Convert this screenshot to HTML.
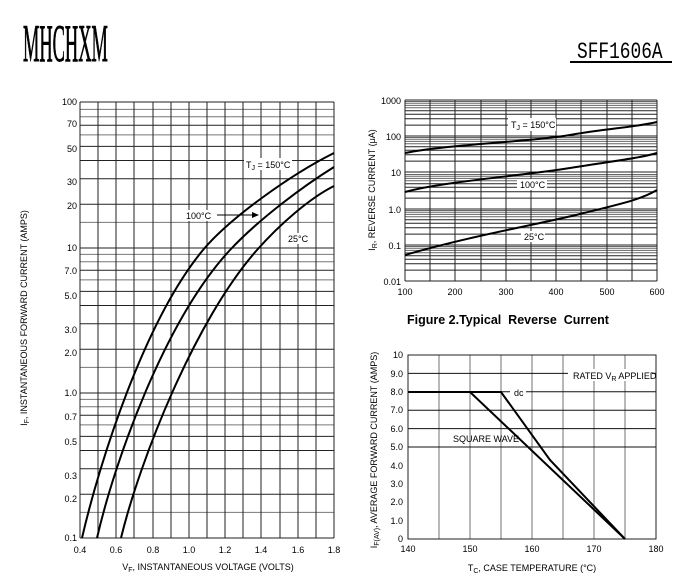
<!DOCTYPE html>
<html><head><meta charset="utf-8"><style>
html,body{margin:0;padding:0;background:#fff;}
svg{display:block;font-family:"Liberation Sans",sans-serif;}
</style></head><body>
<svg width="700" height="577" viewBox="0 0 700 577" xmlns="http://www.w3.org/2000/svg">
<defs>
<g id="d1" stroke="#222" stroke-width="1">
<line x1="80" x2="334" y1="0" y2="0"/><line x1="80" x2="334" y1="-25.6" y2="-25.6" stroke="#777"/><line x1="80" x2="334" y1="-43.7" y2="-43.7"/><line x1="80" x2="334" y1="-69.3" y2="-69.3"/><line x1="80" x2="334" y1="-87.5" y2="-87.5"/><line x1="80" x2="334" y1="-101.6" y2="-101.6"/><line x1="80" x2="334" y1="-113.1" y2="-113.1" stroke="#777"/><line x1="80" x2="334" y1="-122.8" y2="-122.8"/><line x1="80" x2="334" y1="-131.2" y2="-131.2" stroke="#777"/><line x1="80" x2="334" y1="-138.6" y2="-138.6" stroke="#777"/>
</g>
<g id="d2" stroke="#222" stroke-width="1">
<line x1="405" x2="657" y1="0" y2="0"/><line x1="405" x2="657" y1="-10.9" y2="-10.9"/><line x1="405" x2="657" y1="-17.3" y2="-17.3"/><line x1="405" x2="657" y1="-21.8" y2="-21.8"/><line x1="405" x2="657" y1="-25.3" y2="-25.3"/><line x1="405" x2="657" y1="-28.2" y2="-28.2" stroke="#666"/><line x1="405" x2="657" y1="-30.6" y2="-30.6" stroke="#666"/><line x1="405" x2="657" y1="-32.7" y2="-32.7" stroke="#666"/><line x1="405" x2="657" y1="-34.5" y2="-34.5" stroke="#666"/>
</g>
</defs>

<!-- header -->
<text x="0" y="0" font-family="Liberation Serif,serif" font-size="46" stroke="#000" stroke-width="0.8" transform="translate(23,61) scale(0.40,1.15)">MHCHXM</text>
<text x="0" y="0" font-family="Liberation Mono,monospace" font-size="21" transform="translate(577,58) scale(0.85,1.1)">SFF1606A</text>
<line x1="570" x2="672" y1="62" y2="62" stroke="#000" stroke-width="2"/>

<!-- chart 1 -->
<use href="#d1" y="538"/><use href="#d1" y="393"/><use href="#d1" y="248"/>
<line x1="80" x2="334" y1="102" y2="102" stroke="#222"/>
<g stroke="#222" stroke-width="1">
<line x1="80" x2="80" y1="102" y2="538"/><line x1="98" x2="98" y1="102" y2="538"/><line x1="116" x2="116" y1="102" y2="538"/><line x1="134" x2="134" y1="102" y2="538"/><line x1="153" x2="153" y1="102" y2="538"/><line x1="171" x2="171" y1="102" y2="538"/><line x1="189" x2="189" y1="102" y2="538"/><line x1="207" x2="207" y1="102" y2="538"/><line x1="225" x2="225" y1="102" y2="538"/><line x1="243" x2="243" y1="102" y2="538"/><line x1="261" x2="261" y1="102" y2="538"/><line x1="280" x2="280" y1="102" y2="538"/><line x1="298" x2="298" y1="102" y2="538"/><line x1="316" x2="316" y1="102" y2="538"/><line x1="334" x2="334" y1="102" y2="538"/>
</g>
<g fill="none" stroke="#000" stroke-width="2">
<path d="M82,538 C100,460 145,320 203,250 C230,218 290,175 334,153"/>
<path d="M97,538 C115,460 165,320 230,250 C260,218 305,185 334,167"/>
<path d="M121,538 C140,460 195,320 257,250 C280,224 310,198 334,186"/>
</g>
<rect x="244" y="158" width="48" height="12" fill="#fff"/>
<text x="246" y="168" font-size="9">T<tspan font-size="7" dy="2">J</tspan><tspan dy="-2"> = 150°C</tspan></text>
<rect x="184" y="210" width="32" height="11" fill="#fff"/>
<text x="186" y="219" font-size="9">100°C</text>
<line x1="217" y1="215" x2="258" y2="215" stroke="#000"/><path d="M259,215 l-7,-3 v6z" fill="#000"/>
<rect x="286" y="233" width="24" height="11" fill="#fff"/>
<text x="288" y="242" font-size="9">25°C</text>
<g font-size="9" text-anchor="end">
<text x="77" y="105">100</text><text x="77" y="127">70</text><text x="77" y="152">50</text><text x="77" y="185">30</text><text x="77" y="209">20</text><text x="77" y="251">10</text><text x="77" y="274">7.0</text><text x="77" y="299">5.0</text><text x="77" y="333">3.0</text><text x="77" y="356">2.0</text><text x="77" y="396">1.0</text><text x="77" y="420">0.7</text><text x="77" y="445">0.5</text><text x="77" y="479">0.3</text><text x="77" y="502">0.2</text><text x="77" y="541">0.1</text>
</g>
<g font-size="9" text-anchor="middle">
<text x="80" y="553">0.4</text><text x="116" y="553">0.6</text><text x="153" y="553">0.8</text><text x="189" y="553">1.0</text><text x="225" y="553">1.2</text><text x="261" y="553">1.4</text><text x="298" y="553">1.6</text><text x="334" y="553">1.8</text>
<text x="208" y="570" font-size="9">V<tspan font-size="7" dy="2">F</tspan><tspan dy="-2">, INSTANTANEOUS VOLTAGE (VOLTS)</tspan></text>
<text transform="translate(27,318) rotate(-90)" font-size="9">I<tspan font-size="7" dy="2">F</tspan><tspan dy="-2">, INSTANTANEOUS FORWARD CURRENT (AMPS)</tspan></text>
</g>

<!-- chart 2 -->
<use href="#d2" y="281"/><use href="#d2" y="245"/><use href="#d2" y="209"/><use href="#d2" y="172"/><use href="#d2" y="136"/>
<line x1="405" x2="657" y1="100" y2="100" stroke="#222"/>
<g stroke="#222">
<line x1="405" x2="405" y1="100" y2="281"/><line x1="430" x2="430" y1="100" y2="281"/><line x1="455" x2="455" y1="100" y2="281"/><line x1="481" x2="481" y1="100" y2="281"/><line x1="506" x2="506" y1="100" y2="281"/><line x1="531" x2="531" y1="100" y2="281"/><line x1="556" x2="556" y1="100" y2="281"/><line x1="581" x2="581" y1="100" y2="281"/><line x1="607" x2="607" y1="100" y2="281"/><line x1="632" x2="632" y1="100" y2="281"/><line x1="657" x2="657" y1="100" y2="281"/>
</g>
<g fill="none" stroke="#000" stroke-width="2">
<path d="M405,153 C450,144 530,142 570,135 S630,128 657,122"/>
<path d="M405,192 C440,182 520,176 570,168 S640,158 657,153"/>
<path d="M405,255 C470,236 540,224 580,214 S640,200 657,190"/>
</g>
<rect x="508" y="118" width="48" height="13" fill="#fff"/>
<text x="511" y="128" font-size="9">T<tspan font-size="7" dy="2">J</tspan><tspan dy="-2"> = 150°C</tspan></text>
<rect x="517" y="179" width="30" height="11" fill="#fff"/>
<text x="520" y="188" font-size="9">100°C</text>
<rect x="521" y="231" width="24" height="11" fill="#fff"/>
<text x="524" y="240" font-size="9">25°C</text>
<g font-size="9" text-anchor="end">
<text x="401" y="104">1000</text><text x="401" y="140">100</text><text x="401" y="176">10</text><text x="401" y="213">1.0</text><text x="401" y="249">0.1</text><text x="401" y="285">0.01</text>
</g>
<g font-size="9" text-anchor="middle">
<text x="405" y="295">100</text><text x="455" y="295">200</text><text x="506" y="295">300</text><text x="556" y="295">400</text><text x="607" y="295">500</text><text x="657" y="295">600</text>
<text transform="translate(375,190) rotate(-90)" font-size="9">I<tspan font-size="7" dy="2">R</tspan><tspan dy="-2">, REVERSE CURRENT (μA)</tspan></text>
</g>
<text x="407" y="324" font-size="12.5" font-weight="bold">Figure 2.Typical&#160; Reverse&#160; Current</text>

<!-- chart 3 -->
<g stroke="#888" stroke-width="1.2">
<line x1="439" x2="439" y1="355" y2="539"/><line x1="470" x2="470" y1="355" y2="539"/><line x1="501" x2="501" y1="355" y2="539"/><line x1="532" x2="532" y1="355" y2="539"/><line x1="563" x2="563" y1="355" y2="539"/><line x1="594" x2="594" y1="355" y2="539"/><line x1="625" x2="625" y1="355" y2="539"/>
</g>
<g stroke="#111" stroke-width="1">
<line x1="408" x2="656" y1="373.4" y2="373.4"/><line x1="408" x2="656" y1="391.8" y2="391.8"/><line x1="408" x2="656" y1="410.2" y2="410.2"/><line x1="408" x2="656" y1="428.6" y2="428.6"/><line x1="408" x2="656" y1="447" y2="447"/>
</g>
<rect x="408" y="355" width="248" height="184" fill="none" stroke="#222"/>
<rect x="568" y="369" width="84" height="12" fill="#fff"/>
<text x="573" y="379" font-size="9">RATED V<tspan font-size="7" dy="2">R</tspan><tspan dy="-2"> APPLIED</tspan></text>
<rect x="510" y="387" width="16" height="11" fill="#fff"/>
<text x="514" y="396" font-size="9">dc</text>
<text x="453" y="442" font-size="9">SQUARE WAVE</text>
<g fill="none" stroke="#000" stroke-width="2">
<polyline points="408,392 501,392 550,460 625,539"/>
<polyline points="408,392 470,392 625,539"/>
</g>
<g font-size="9" text-anchor="end">
<text x="403" y="358">10</text><text x="403" y="377">9.0</text><text x="403" y="395">8.0</text><text x="403" y="413">7.0</text><text x="403" y="432">6.0</text><text x="403" y="450">5.0</text><text x="403" y="469">4.0</text><text x="403" y="487">3.0</text><text x="403" y="505">2.0</text><text x="403" y="524">1.0</text><text x="403" y="542">0</text>
</g>
<g font-size="9" text-anchor="middle">
<text x="408" y="552">140</text><text x="470" y="552">150</text><text x="532" y="552">160</text><text x="594" y="552">170</text><text x="656" y="552">180</text>
<text x="532" y="571">T<tspan font-size="7" dy="2">C</tspan><tspan dy="-2">, CASE TEMPERATURE (°C)</tspan></text>
<text transform="translate(377,450) rotate(-90)" font-size="9">I<tspan font-size="7" dy="2">F(AV)</tspan><tspan dy="-2">, AVERAGE FORWARD CURRENT (AMPS)</tspan></text>
</g>
</svg>
</body></html>
